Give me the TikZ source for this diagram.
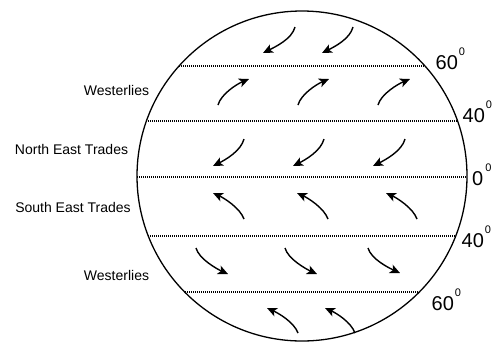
\documentclass[tikz,border=0pt]{standalone}
\usepackage{fontspec}
\setmainfont{Liberation Sans}
\usetikzlibrary{arrows.meta}
\begin{document}
\begin{tikzpicture}[x=1pt,y=-1pt,
  globe/.style={line width=1.3pt},
  lat/.style={line width=2pt,line cap=butt,dash pattern=on 1pt off 1pt},
  wind/.style={line width=1.4pt,-{Stealth[length=10pt,width=9pt,inset=2.5pt]}},
  zone/.style={inner sep=0pt,font=\fontsize{14}{16}\selectfont},
  deg/.style={inner sep=0pt,anchor=base west,font=\fontsize{20}{22}\selectfont}]
\useasboundingbox (0,0) rectangle (492,341);
\coordinate (c) at (302,176);
\draw[globe] (c) circle[radius=165];
% latitude lines
\foreach \y/\xa/\xb in {66/179/425, 121/146/458, 177/137/467, 236/148/456, 292/185/419}
  \draw[lat] (\xa,\y) -- (\xb,\y);
% degree labels
\newcommand{\degsup}{\raisebox{14pt}{\fontsize{11}{11}\selectfont 0}}
\node[deg] (l60n) at (435.5,69) {60\hspace{1pt}\degsup};
\node[deg] (l40n) at (462.5,122) {40\hspace{1pt}\degsup};
\node[deg] (l0) at (472,185) {0\hspace{2pt}\degsup};
\node[deg] (l40s) at (461.5,247) {40\hspace{1pt}\degsup};
\node[deg] (l60s) at (431.5,310) {60\hspace{1pt}\degsup};
% zone labels
\node[zone] (w1) at (116.5,90) {Westerlies};
\node[zone] (net) at (71.5,149) {North East Trades};
\node[zone] (set) at (73,207) {South East Trades};
\node[zone] (w2) at (116.5,275) {Westerlies};
% polar (north)
\foreach \sx/\sy/\ex/\ey in {295/27/263/53, 353/27/322/53}
  \draw[wind] (\sx,\sy) .. controls +(-3,12) and +(12,-6) .. (\ex,\ey);
% westerlies (north)
\foreach \sx/\sy/\ex/\ey in {218/105/249/79, 298/105/329/79, 378/105/410/79}
  \draw[wind] (\sx,\sy) .. controls +(3,-11) and +(-12,5) .. (\ex,\ey);
% north east trades
\foreach \sx/\sy/\ex/\ey in {244/139/213/166, 324/139/293/166, 405/139/373/166}
  \draw[wind] (\sx,\sy) .. controls +(-3,12) and +(12,-6) .. (\ex,\ey);
% south east trades
\foreach \sx/\sy/\ex/\ey in {244/219/213/193, 328/219/297/193, 417/219/386/193}
  \draw[wind] (\sx,\sy) .. controls +(-4,-11) and +(11,5) .. (\ex,\ey);
% westerlies (south)
\foreach \sx/\sy/\ex/\ey in {196/248/228/274, 285/248/317/274, 368/248/400/273}
  \draw[wind] (\sx,\sy) .. controls +(3,11) and +(-11,-5) .. (\ex,\ey);
% polar (south)
\foreach \sx/\sy/\ex/\ey in {298/333/267/308, 355/333/325/308}
  \draw[wind] (\sx,\sy) .. controls +(-4,-11) and +(11,5) .. (\ex,\ey);
\end{tikzpicture}
\end{document}
